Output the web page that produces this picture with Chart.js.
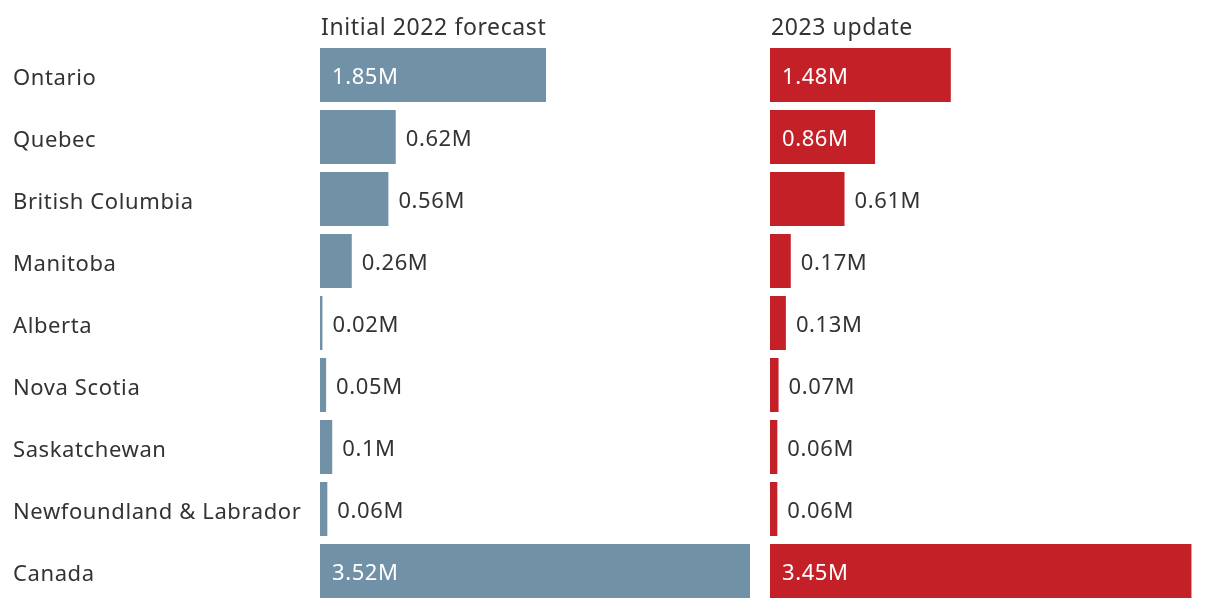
<!DOCTYPE html>
<html>
<head>
<meta charset="utf-8">
<script src="https://cdn.jsdelivr.net/npm/chart.js@4"></script>
<style>
  html, body { margin: 0; padding: 0; background: #fff; }
  #wrap { position: relative; width: 1220px; height: 608px; }
  .panel { position: absolute; top: 0; height: 608px; }
  #left { left: 0; width: 760px; }
  #right { left: 760px; width: 460px; }
</style>
</head>
<body>
<div id="wrap">
  <div class="panel" id="left"><canvas id="forecast"></canvas></div>
  <div class="panel" id="right"><canvas id="update"></canvas></div>
</div>
<script>
const provinces = ['Ontario', 'Quebec', 'British Columbia', 'Manitoba', 'Alberta', 'Nova Scotia', 'Saskatchewan', 'Newfoundland & Labrador', 'Canada'];
const forecast2022 = [1.85, 0.62, 0.56, 0.26, 0.02, 0.05, 0.1, 0.06, 3.52];
const update2023 = [1.48, 0.86, 0.61, 0.17, 0.13, 0.07, 0.06, 0.06, 3.45];
const headings = ['Initial 2022 forecast', '2023 update'];

const FONT = '"Noto Sans", "Open Sans", sans-serif';
const TEXT = '#333333';

Chart.defaults.font.family = FONT;
Chart.defaults.color = TEXT;

// heading, category names (left panel only) and value labels
const labelsPlugin = {
    id: 'valueLabels',
    afterDatasetsDraw(chart, args, opts) {
        const ctx = chart.ctx;
        const area = chart.chartArea;
        const meta = chart.getDatasetMeta(0);
        const values = chart.data.datasets[0].data;
        ctx.save();
        ctx.letterSpacing = '0.6px';
        ctx.textBaseline = 'middle';
        ctx.textAlign = 'left';
        ctx.fillStyle = TEXT;
        ctx.font = '23px ' + FONT;
        ctx.fillText(opts.heading, area.left + 1, 28);

        ctx.font = '22px ' + FONT;
        meta.data.forEach((bar, i) => {
            if (opts.categories) {
                ctx.fillStyle = TEXT;
                ctx.fillText(chart.data.labels[i], 13, bar.y + 4);
            }
            const txt = values[i] + 'M';
            const w = ctx.measureText(txt).width;
            const barW = bar.x - bar.base;
            if (barW >= w + 24) {
                ctx.fillStyle = '#ffffff';
                ctx.fillText(txt, bar.base + 12, bar.y + 3);
            } else {
                ctx.fillStyle = TEXT;
                ctx.fillText(txt, bar.x + 10, bar.y + 3);
            }
        });
        ctx.restore();
    }
};

function panel(canvas, values, color, heading, categories, padLeft, padRight) {
    return new Chart(canvas, {
        type: 'bar',
        data: {
            labels: provinces,
            datasets: [{ data: values, backgroundColor: color, borderWidth: 0, barPercentage: 54 / 62, categoryPercentage: 1 }],
        },
        options: {
            indexAxis: 'y',
            responsive: true,
            maintainAspectRatio: false,
            animation: false,
            layout: { padding: { top: 44, bottom: 6, left: padLeft, right: padRight } },
            plugins: { legend: { display: false }, tooltip: { enabled: false }, valueLabels: { heading, categories } },
            scales: {
                x: { display: false, min: 0, max: 3.52 },
                y: { display: false },
            },
        },
        plugins: [labelsPlugin],
    });
}

panel(document.getElementById('forecast'), forecast2022, '#7091a6', headings[0], true, 320, 10);
panel(document.getElementById('update'), update2023, '#c42028', headings[1], false, 10, 20);
</script>
</body>
</html>
